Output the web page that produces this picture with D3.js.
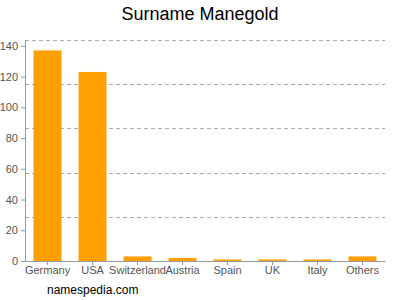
<!DOCTYPE html>
<html><head><meta charset="utf-8">
<script src="https://cdn.jsdelivr.net/npm/d3@7"></script>
<style>body{margin:0;background:#fff}svg{display:block}</style>
</head><body>
<svg id="c" width="400" height="300"></svg>
<script>
const categories = ["Germany","USA","Switzerland","Austria","Spain","UK","Italy","Others"];
const values = [137,123,3,2,1,1,1,3];
const yTicks = [0,20,40,60,80,100,120,140];

(function(){
const svg = d3.select("#c");
const mLeft = 25, mRight = 385, mTop = 40, mBottom = 261;
const yMax = 143.8;
const x = d3.scaleBand().domain(categories).range([mLeft,mRight]).paddingInner(0.378).paddingOuter(0.19);
const y = d3.scaleLinear().domain([0,yMax]).range([mBottom,mTop]);

// gridlines
const grid = d3.range(1,6).map(i => yMax*i/5);
svg.append("g").selectAll("line").data(grid).join("line")
  .attr("x1",mLeft).attr("x2",mRight)
  .attr("y1",d=>Math.round(y(d))+0.5).attr("y2",d=>Math.round(y(d))+0.5)
  .attr("stroke","#aaa").attr("stroke-dasharray","4,3").attr("stroke-width",1);

// bars
svg.append("g").selectAll("rect").data(values).join("rect")
  .attr("x",(d,i)=>x(categories[i])).attr("width",x.bandwidth())
  .attr("y",d=>y(d)).attr("height",d=>mBottom-y(d))
  .attr("fill","#ffa000");

// y axis
const ya = svg.append("g").attr("transform",`translate(${mLeft},0)`)
  .call(d3.axisLeft(y).tickValues(yTicks).tickSize(4).tickSizeOuter(0));
ya.select(".domain").attr("stroke","#999");
ya.selectAll(".tick line").attr("stroke","#999");
ya.selectAll("text").attr("fill","#555").style("font-family","Liberation Sans, Arial, sans-serif").style("font-size","11px");

// x axis
const xa = svg.append("g").attr("transform",`translate(0,${mBottom})`)
  .call(d3.axisBottom(x).tickSize(4).tickSizeOuter(0));
xa.select(".domain").attr("stroke","#999");
xa.selectAll(".tick line").attr("stroke","#999");
xa.selectAll("text").attr("fill","#555").attr("y",5).attr("dy","0.71em").style("font-family","Liberation Sans, Arial, sans-serif").style("font-size","11px");

svg.append("text").attr("x",200).attr("y",20).attr("text-anchor","middle")
  .style("font-family","Liberation Sans, Arial, sans-serif").style("font-size","18px").attr("fill","#000")
  .text("Surname Manegold");
svg.append("text").attr("x",47).attr("y",294).attr("text-anchor","start")
  .style("font-family","Liberation Sans, Arial, sans-serif").style("font-size","12px").attr("fill","#000")
  .text("namespedia.com");
})();
</script>
</body></html>
